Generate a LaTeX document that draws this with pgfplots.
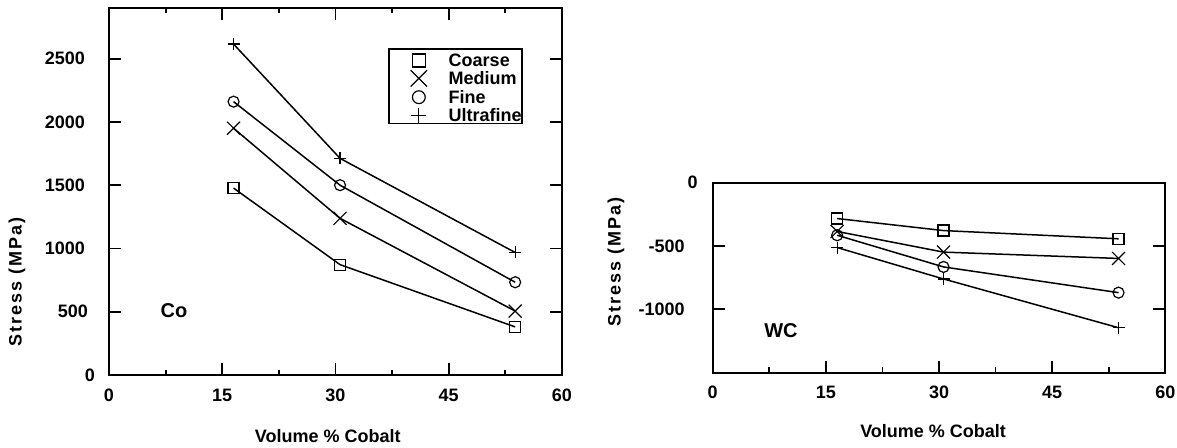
\documentclass[border=0pt]{standalone}
\usepackage{fontspec}
\setmainfont{Liberation Sans}
\newfontfamily\spacedfont[LetterSpace=11]{Liberation Sans}
\usepackage{pgfplots}
\pgfplotsset{compat=1.18}

\pgfplotsset{
  common/.style={
    scale only axis,
    axis line style={line width=0.9pt},
    tick style={black, line width=0.9pt},
    tick align=inside,
    major tick length=6pt, minor tick length=2.6pt,
    xmin=0, xmax=60,
    xtick={0,15,30,45,60},
    minor xtick={7.5,22.5,37.5,52.5},
    xticklabels={0,15,30,45,60},
    tick label style={font=\fontsize{9}{10}\selectfont\bfseries},
    xticklabel style={anchor=center, yshift=-10pt},
    clip=false,
  },
  ser/.style={black, line width=0.75pt, mark options={line width=0.6pt, solid}},
  coarse/.style={ser, mark=square, mark size=2.75pt},
  medium/.style={ser, mark=x, mark size=4.6pt},
  fine/.style={ser, mark=o, mark size=2.75pt},
  ultra/.style={ser, mark=+, mark size=3pt},
}

\pgfplotstableread{
x     coarse medium fine ultra
16.5  1477   1950   2160 2615
30.6   872   1238   1500 1712
53.8   380    505    733  968
}\codata

\pgfplotstableread{
x     coarse medium fine  ultra
16.5  -283   -385   -415  -512
30.6  -378   -548   -665  -760
53.8  -443   -598   -868  -1145
}\wcdata

\begin{document}
\begin{tikzpicture}
\path[use as bounding box] (0,0) rectangle (588.5pt,-224pt);

% ---- Co panel ----
\begin{axis}[common,
  at={(54.5pt,-187.5pt)}, anchor=south west,
  width=226.5pt, height=183.5pt,
  ymin=0, ymax=2900,
  ytick={0,500,1000,1500,2000,2500},
  yticklabels={0\hspace*{-5pt},500\hspace*{-1.5pt},1000,1500,2000,2500},
  xtick pos=both, ytick pos=both,
  xticklabel pos=lower, yticklabel pos=left,
  yticklabel style={anchor=east, xshift=-8.5pt},
  xlabel={Volume \% Cobalt},
  ylabel={\spacedfont Stress (MPa)},
  xlabel style={font=\fontsize{9}{10}\selectfont\bfseries, at={(axis description cs:0.483,-0.166)}, anchor=center},
  ylabel style={font=\fontsize{9}{10}\selectfont\bfseries, at={(axis description cs:-0.203,0.253)}, anchor=center, rotate=0},
  legend style={at={(axis description cs:0.616,0.891)}, anchor=north west,
    draw=black, line width=0.9pt, inner xsep=0pt, inner ysep=0.5pt,
    column sep=0pt, row sep=0pt,
    font=\fontsize{9}{10}\selectfont\bfseries,
    nodes={inner xsep=0pt, inner ysep=0pt, text height=8.5pt, text depth=0pt, anchor=base west}},
  legend cell align=left,
  legend image code/.code={\path (0pt,0pt) (29pt,0pt); \draw[#1] plot coordinates {(14.5pt,3.2pt)};},
]
\addlegendimage{only marks, black, mark=square, mark size=3.2pt, mark options={line width=0.6pt}}
\addlegendentry{Coarse}
\addlegendimage{only marks, black, mark=x, mark size=5.8pt, mark options={line width=0.6pt}}
\addlegendentry{Medium}
\addlegendimage{only marks, black, mark=o, mark size=3.2pt, mark options={line width=0.6pt}}
\addlegendentry{Fine}
\addlegendimage{only marks, black, mark=+, mark size=3.7pt, mark options={line width=0.6pt}}
\addlegendentry{Ultrafine}
\addplot[coarse, forget plot] table[x=x, y=coarse] {\codata};
\addplot[medium, forget plot] table[x=x, y=medium] {\codata};
\addplot[fine, forget plot] table[x=x, y=fine] {\codata};
\addplot[ultra, forget plot] table[x=x, y=ultra] {\codata};
\node[font=\fontsize{10}{11}\selectfont\bfseries] at (axis cs:8.6,505) {Co};
\end{axis}

% ---- WC panel ----
\begin{axis}[common,
  at={(356.35pt,-186.35pt)}, anchor=south west,
  width=226.3pt, height=95pt,
  ymin=-1500, ymax=0,
  ytick={-1500,-1000,-500,0},
  yticklabels={{},-1000,-500,0\hspace*{-6.5pt}},
  xtick pos=bottom, ytick pos=both,
  yticklabel pos=left,
  yticklabel style={anchor=east, xshift=-10.5pt},
  xlabel={Volume \% Cobalt},
  ylabel={\spacedfont Stress (MPa)},
  xlabel style={font=\fontsize{9}{10}\selectfont\bfseries, at={(axis description cs:0.487,-0.309)}, anchor=center},
  ylabel style={font=\fontsize{9}{10}\selectfont\bfseries, at={(axis description cs:-0.214,0.583)}, anchor=center},
]
\addplot[coarse] table[x=x, y=coarse] {\wcdata};
\addplot[medium] table[x=x, y=medium] {\wcdata};
\addplot[fine] table[x=x, y=fine] {\wcdata};
\addplot[ultra] table[x=x, y=ultra] {\wcdata};
\node[font=\fontsize{10}{11}\selectfont\bfseries] at (axis cs:9.05,-1170) {WC};
\end{axis}
\end{tikzpicture}
\end{document}
